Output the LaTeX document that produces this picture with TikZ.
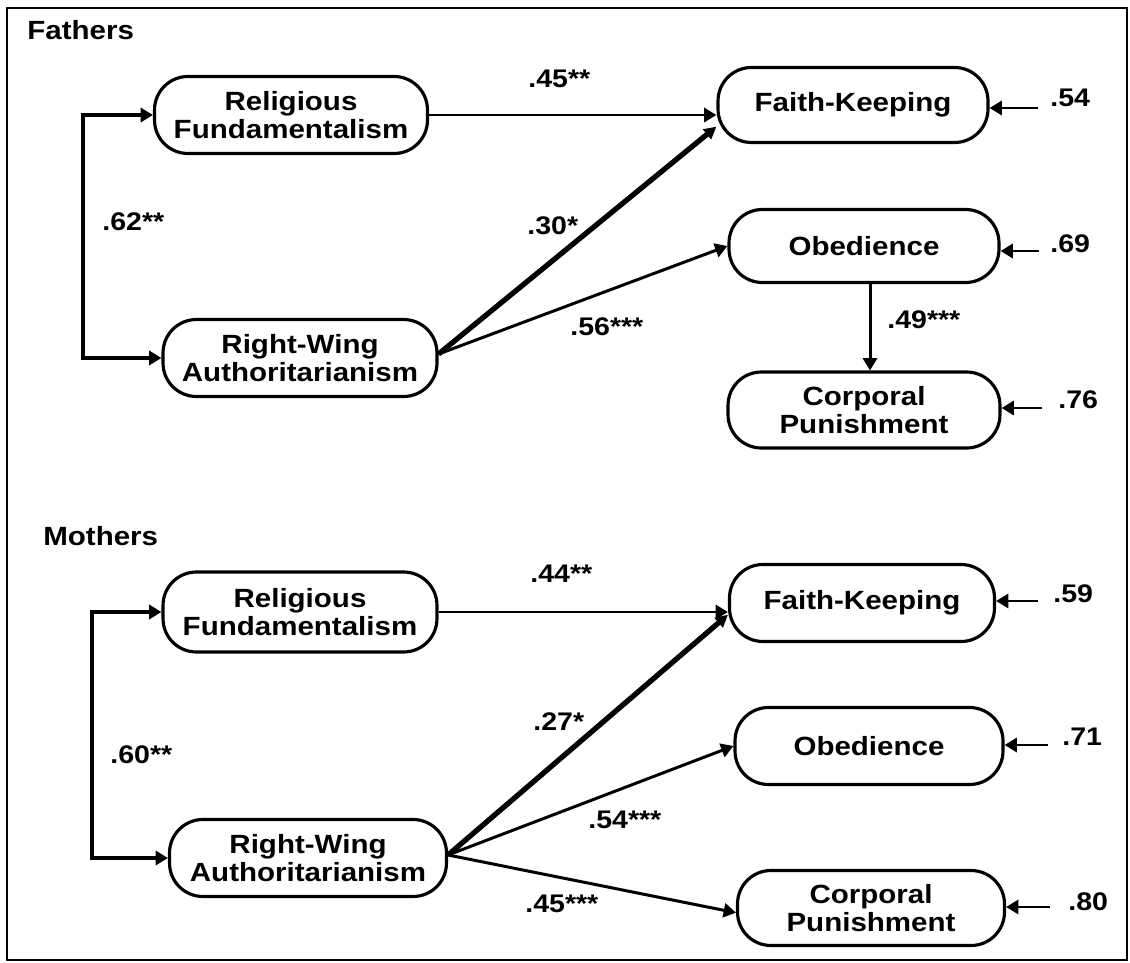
\documentclass[tikz,border=0pt]{standalone}
\usepackage{fontspec}
\setmainfont{Liberation Sans}[FakeStretch=1.12]
\usetikzlibrary{arrows.meta,calc}
\begin{document}
\begin{tikzpicture}[x=0.02cm,y=-0.02cm,
  box/.style={draw,line width=1.8pt,rounded corners=19pt,align=center,
    font=\fontsize{15}{15.5}\selectfont\bfseries,inner sep=0pt},
  lab/.style={font=\fontsize{14.5}{14.5}\selectfont\bfseries,inner sep=0pt,anchor=base west},
  head/.style={font=\fontsize{15}{15}\selectfont\bfseries,inner sep=0pt,anchor=base west},
  arr/.style={line width=1.7pt,-{Triangle[length=7pt,width=8pt]}},
  thickarr/.style={line width=3pt,-{Triangle[length=7pt,width=7pt]}},
  dblarr/.style={line width=1.8pt,{Triangle[length=7pt,width=8pt]}-{Triangle[length=7pt,width=8pt]}}
]
\fill[white] (0,0) rectangle (1130,963);
\useasboundingbox (0,0) rectangle (1130,963);
\draw[line width=1.1pt] (7,8) rectangle (1127,960);

% ---------------- Fathers ----------------
\node[head] (hF) at (27,40) {Fathers};
\node[box,minimum width=5.46cm,minimum height=1.54cm] (RFf) at (291,115) {Religious\\Fundamentalism};
\node[box,minimum width=5.48cm,minimum height=1.54cm] (RWAf) at (300,358) {Right-Wing\\Authoritarianism};
\node[box,minimum width=5.4cm,minimum height=1.5cm] (FKf) at (853,105) {Faith-Keeping};
\node[box,minimum width=5.4cm,minimum height=1.46cm] (OBf) at (864,246) {Obedience};
\node[box,minimum width=5.44cm,minimum height=1.52cm] (CPf) at (864,410) {Corporal\\Punishment};

\coordinate (bxf) at (83,240);
\draw[dblarr] (RFf.west) -| (bxf) |- (RWAf.west);
\node[lab] (l62) at (102,231) {.62**};

\draw[arr] (RFf.east) -- (RFf.east -| FKf.west);
\node[lab] (l45f) at (528,88) {.45**};
\draw[thickarr] ($(RWAf.east)+(0,-4)$) -- (FKf.189);
\node[lab] (l30) at (527,235) {.30*};
\draw[arr] ($(RWAf.east)+(0,-4)$) -- (OBf.west);
\node[lab] (l56) at (570,335) {.56***};
\draw[arr] ($(OBf.south)+(6,0)$) -- ($(CPf.north)+(6,0)$);
\node[lab] (l49) at (887,328) {.49***};

\coordinate (e1) at (1038,108);
\coordinate (e2) at (1039,251);
\coordinate (e3) at (1042,408);
\draw[arr] (e1) -- (e1 -| FKf.east);
\draw[arr] (e2) -- (e2 -| OBf.east);
\draw[arr] (e3) -- (e3 -| CPf.east);
\node[lab] (r54) at (1050,107) {.54};
\node[lab] (r69) at (1050,253) {.69};
\node[lab] (r76) at (1058,408) {.76};

% ---------------- Mothers ----------------
\node[head] (hM) at (43,545) {Mothers};
\node[box,minimum width=5.48cm,minimum height=1.6cm] (RFm) at (300,612) {Religious\\Fundamentalism};
\node[box,minimum width=5.54cm,minimum height=1.54cm] (RWAm) at (308,858) {Right-Wing\\Authoritarianism};
\node[box,minimum width=5.3cm,minimum height=1.54cm] (FKm) at (862,603) {Faith-Keeping};
\node[box,minimum width=5.36cm,minimum height=1.54cm] (OBm) at (869,746) {Obedience};
\node[box,minimum width=5.34cm,minimum height=1.5cm] (CPm) at (871,908) {Corporal\\Punishment};

\coordinate (bxm) at (92,735);
\draw[dblarr] (RFm.west) -| (bxm) |- (RWAm.west);
\node[lab] (l60) at (110,763) {.60**};

\draw[arr] (RFm.east) -- (RFm.east -| FKm.west);
\node[lab] (l44) at (530,582) {.44**};
\draw[thickarr] ($(RWAm.east)+(0,-3)$) -- (FKm.185);
\node[lab] (l27) at (533,730) {.27*};
\draw[arr] ($(RWAm.east)+(0,-3)$) -- (OBm.west);
\node[lab] (l54m) at (588,828) {.54***};
\draw[arr] ($(RWAm.east)+(0,-3)$) -- (CPm.182);
\node[lab] (l45m) at (525,912) {.45***};

\coordinate (m1) at (1038,601);
\coordinate (m2) at (1048,745);
\coordinate (m3) at (1050,907);
\draw[arr] (m1) -- (m1 -| FKm.east);
\draw[arr] (m2) -- (m2 -| OBm.east);
\draw[arr] (m3) -- (m3 -| CPm.east);
\node[lab] (r59) at (1053,602) {.59};
\node[lab] (r71) at (1062,745) {.71};
\node[lab] (r80) at (1068,910) {.80};
\end{tikzpicture}
\end{document}
